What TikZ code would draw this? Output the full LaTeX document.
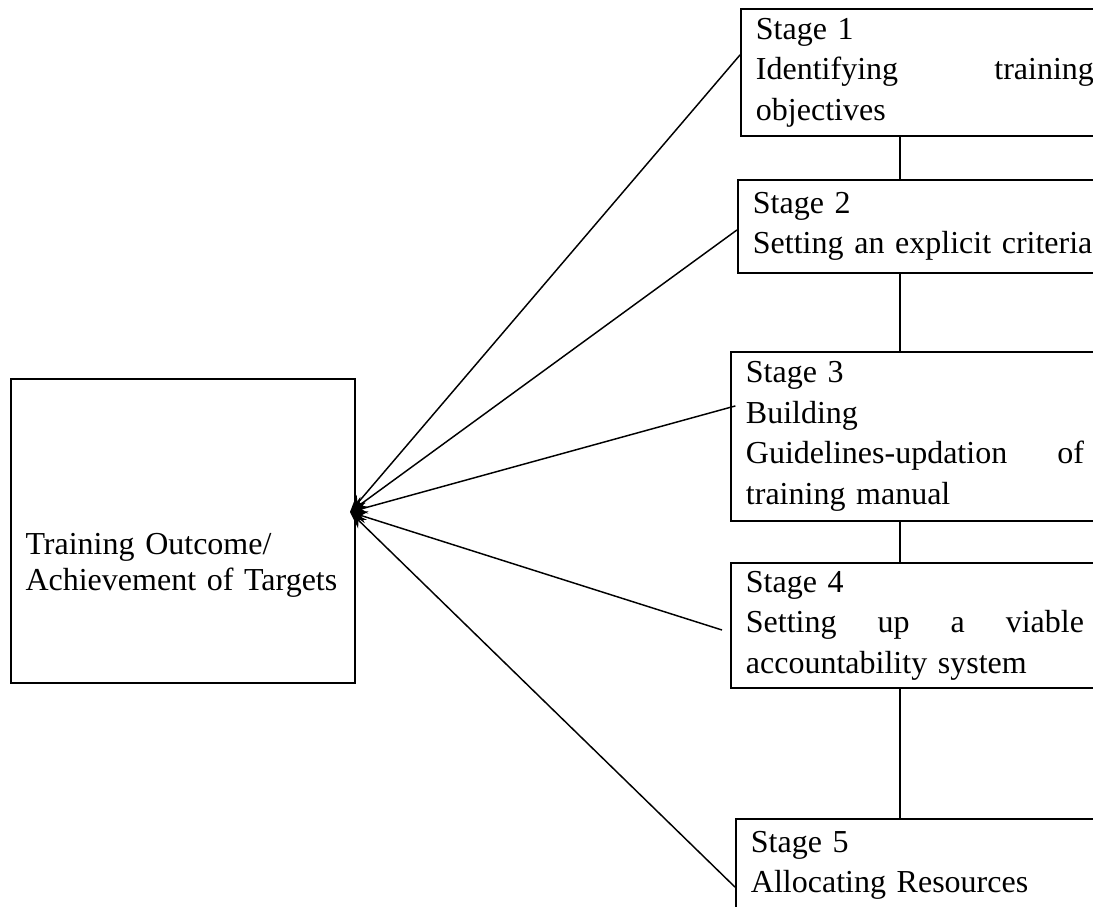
\documentclass[tikz,border=0pt]{standalone}
\usepackage{fontspec}
\setmainfont{Liberation Serif}
\usetikzlibrary{arrows.meta}

\tikzset{
  stagebox/.style={draw, line width=0.75pt, anchor=north west, text width=126.75pt, inner xsep=5.6pt, inner ysep=0pt, align=left, font=\fontsize{12pt}{15.2pt}\selectfont},
  feed/.style={line width=0.55pt, -{Stealth[length=6.5pt,width=4.6pt]}},
  link/.style={line width=0.55pt}
}

\begin{document}
\begin{tikzpicture}[x=0.375pt,y=-0.375pt]
	\useasboundingbox (0,0) rectangle (1093,906);
	\clip (0,0) rectangle (1093,906);

	\node[draw, line width=0.75pt, anchor=north west, minimum width=129pt, minimum height=114pt, inner sep=0pt] (outcome) at (10,378) {};
	\node[anchor=base west, text width=120pt, align=left, inner sep=0pt, font=\fontsize{12pt}{13.6pt}\selectfont] (outtext) at (25,554) {Training Outcome/\\Achievement of Targets};

	\node[stagebox, minimum height=47.6pt] (s1) at (740,8) {Stage 1\\Identifying\hfill training\\objectives};
	\node[stagebox, minimum height=34.9pt] (s2) at (737,179) {Stage 2\\\mbox{Setting an explicit criteria}};
	\node[stagebox, minimum height=63.4pt] (s3) at (730,351) {Stage 3\\Building\\Guidelines-updation\hfill of\\training manual};
	\node[stagebox, minimum height=46.9pt] (s4) at (730,562) {Stage 4\\Setting\hfill up\hfill a\hfill viable\\accountability system};
	\node[stagebox, minimum height=34.9pt] (s5) at (735,818) {Stage 5\\Allocating Resources};

	\coordinate (spine) at (900,0);
	\draw[link] (s1.south -| spine) -- (s2.north -| spine);
	\draw[link] (s2.south -| spine) -- (s3.north -| spine);
	\draw[link] (s3.south -| spine) -- (s4.north -| spine);
	\draw[link] (s4.south -| spine) -- (s5.north -| spine);

	\coordinate (hub) at (350,512);
	\draw[feed] ([yshift=-17.6pt]s1.north west) -- (hub);
	\draw[feed] ([yshift=-19.1pt]s2.north west) -- (hub);
	\draw[feed] ([xshift=2pt,yshift=-20.6pt]s3.north west) -- (hub);
	\draw[feed] ([xshift=-3pt,yshift=-25.5pt]s4.north west) -- (hub);
	\draw[feed] ([yshift=-25.9pt]s5.north west) -- (hub);
\end{tikzpicture}
\end{document}
